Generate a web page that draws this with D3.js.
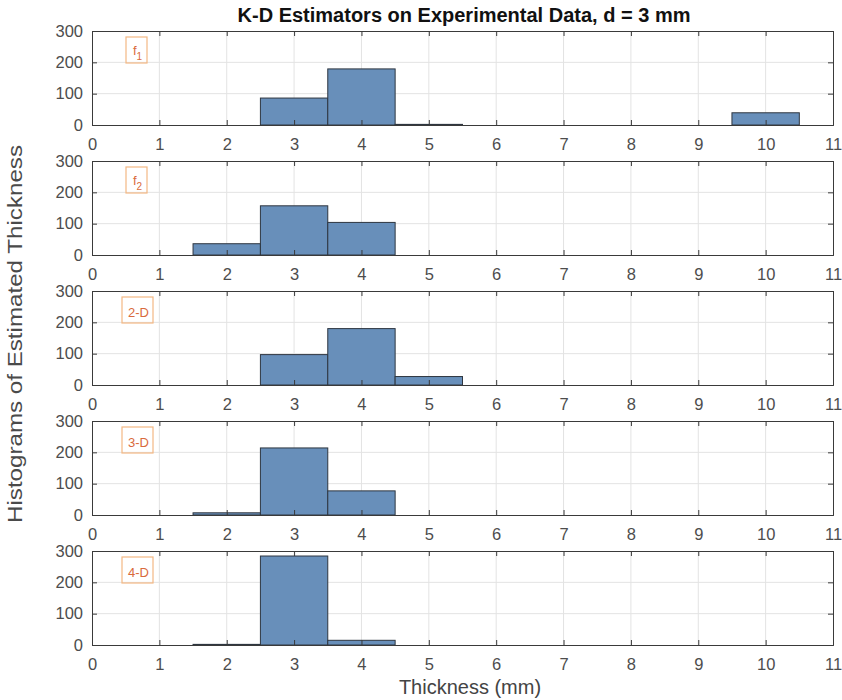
<!DOCTYPE html>
<html>
<head>
<meta charset="utf-8">
<script src="https://cdn.jsdelivr.net/npm/d3@7"></script>
<style>
  body { margin: 0; background: #fff; }
  text { font-family: Arial, "Liberation Sans", sans-serif; }
</style>
</head>
<body>
<svg id="viz"></svg>
<script>
const width = 842;
const height = 700;

// bin centres, bin width 1 mm
const binCenters = [1, 2, 3, 4, 5, 6, 7, 8, 9, 10];
const panelNames = ["f1", "f2", "2-D", "3-D", "4-D"];
const countsF1 = [0, 0, 86, 179, 2, 0, 0, 0, 0, 39];
const countsF2 = [0, 36, 157, 104, 0, 0, 0, 0, 0, 0];
const counts2D = [0, 0, 97, 180, 27, 0, 0, 0, 0, 0];
const counts3D = [0, 7, 214, 77, 0, 0, 0, 0, 0, 0];
const counts4D = [0, 2, 284, 15, 0, 0, 0, 0, 0, 0];
const allCounts = [countsF1, countsF2, counts2D, counts3D, counts4D];
const xTicks = [0, 1, 2, 3, 4, 5, 6, 7, 8, 9, 10, 11];
const yTicks = [0, 100, 200, 300];

const left = 92, right = 833;
const panelTop = 31, panelH = 94, panelStep = 130;

const svg = d3.select("#viz").attr("width", width).attr("height", height);

const x = d3.scaleLinear().domain([0, 11]).range([left, right]);

allCounts.forEach(function (counts, i) {
    const top = panelTop + i * panelStep;
    const y = d3.scaleLinear().domain([0, 300]).range([top + panelH, top]);
    const g = svg.append("g");

    // grid
    g.append("g").selectAll("line").data(xTicks.slice(1, -1)).enter().append("line")
        .attr("x1", d => x(d)).attr("x2", d => x(d))
        .attr("y1", top).attr("y2", top + panelH)
        .attr("stroke", "#e3e3e3").attr("stroke-width", 1);
    g.append("g").selectAll("line").data(yTicks.slice(1, -1)).enter().append("line")
        .attr("x1", left).attr("x2", right)
        .attr("y1", d => y(d)).attr("y2", d => y(d))
        .attr("stroke", "#e3e3e3").attr("stroke-width", 1);

    // bars
    const data = binCenters.map((c, k) => ({ c: c, v: counts[k] })).filter(d => d.v > 0);
    g.append("g").selectAll("rect").data(data).enter().append("rect")
        .attr("x", d => x(d.c - 0.5))
        .attr("width", d => x(d.c + 0.5) - x(d.c - 0.5))
        .attr("y", d => y(d.v))
        .attr("height", d => y(0) - y(d.v))
        .attr("fill", "rgb(104,143,186)")
        .attr("stroke", "#2e3640").attr("stroke-width", 1);

    // axes (ticks inside, box on)
    const xAxis = g.append("g").attr("transform", `translate(0,${top + panelH})`)
        .call(d3.axisBottom(x).tickValues(xTicks).tickSize(-5).tickPadding(13));
    const xAxisTop = g.append("g").attr("transform", `translate(0,${top})`)
        .call(d3.axisTop(x).tickValues(xTicks).tickSize(-5).tickFormat(""));
    const yAxis = g.append("g").attr("transform", `translate(${left},0)`)
        .call(d3.axisLeft(y).tickValues(yTicks).tickSize(-5).tickPadding(9));
    const yAxisR = g.append("g").attr("transform", `translate(${right},0)`)
        .call(d3.axisRight(y).tickValues(yTicks).tickSize(-5).tickFormat(""));
    [xAxis, xAxisTop, yAxis, yAxisR].forEach(function (a) {
        a.select(".domain").attr("stroke", "#3a3a3a");
        a.selectAll(".tick line").attr("stroke", "#3a3a3a");
        a.selectAll(".tick text").attr("fill", "#4d4d4d").style("font-size", "16.5px");
    });

    // label box
    const name = panelNames[i];
    const bx = name.length > 2 ? 122 : 126, by = top + 6, bw = name.length > 2 ? 31 : 21, bh = 26;
    g.append("rect").attr("x", bx).attr("y", by).attr("width", bw).attr("height", bh)
        .attr("fill", "none").attr("stroke", "#f3b884").attr("stroke-width", 1.2);
    const t = g.append("text").attr("x", bx + bw / 2 + 1).attr("y", by + 20)
        .attr("text-anchor", "middle").attr("fill", "#d96a3c").style("font-size", "13px");
    if (name[0] === "f") {
        t.attr("y", by + 18);
        t.append("tspan").text("f");
        t.append("tspan").attr("dy", 5).style("font-size", "10px").text(name.slice(1));
    } else {
        t.text(name);
    }
});

svg.append("text").attr("x", 464).attr("y", 22).attr("text-anchor", "middle")
    .style("font-size", "20px").style("font-weight", "bold").attr("fill", "#111")
    .text("K-D Estimators on Experimental Data, d = 3 mm");

svg.append("text").attr("x", 470).attr("y", 694).attr("text-anchor", "middle")
    .style("font-size", "20px").attr("fill", "#444")
    .text("Thickness (mm)");

svg.append("text").attr("transform", "translate(22,334) rotate(-90)")
    .attr("text-anchor", "middle").style("font-size", "20px").attr("fill", "#4a4a4a")
    .attr("textLength", 378).attr("lengthAdjust", "spacingAndGlyphs")
    .text("Histograms of Estimated Thickness");
</script>
</body>
</html>
